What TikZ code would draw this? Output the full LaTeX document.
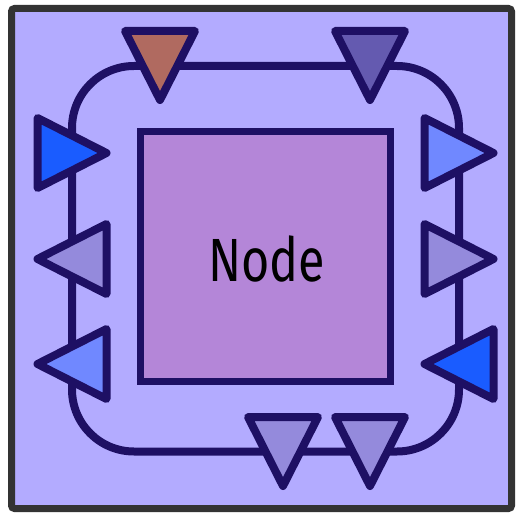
\documentclass[tikz,border=0pt]{standalone}
\usepackage{fontspec}
\setmainfont{Fira Sans}
\definecolor{panel}{RGB}{179,171,255}
\definecolor{frameline}{RGB}{51,51,51}
\definecolor{ink}{RGB}{30,16,100}
\definecolor{corefill}{RGB}{180,134,216}
\definecolor{rust}{RGB}{176,106,96}
\definecolor{slate}{RGB}{100,90,176}
\definecolor{vivid}{RGB}{26,92,255}
\definecolor{soft}{RGB}{112,136,255}
\definecolor{lilac}{RGB}{148,138,220}
\tikzset{
  outerframe/.style={draw=frameline, fill=panel, line width=7pt, rounded corners=3pt},
  loopline/.style={draw=ink, line width=8pt, rounded corners=62pt},
  corebox/.style={draw=ink, fill=corefill, line width=7pt, inner sep=0pt,
    minimum width=250pt, minimum height=249.5pt},
  porttri/.style={draw=ink, line width=8pt, line join=round},
}
% triangle port: centre (x,y), rotation, fill colour; rotate=0 points down
\newcommand\porttriangle[4]{%
  \filldraw[porttri, fill=#4, shift={(#1,#2)}, rotate=#3]
    (-35,-34.5) -- (35,-34.5) -- (0,34.5) -- cycle;}
\begin{document}
\begin{tikzpicture}[x=1pt, y=-1pt]
  \useasboundingbox (0,0) rectangle (527,518);
  \path[outerframe] (11.5,8.5) rectangle (511.5,508.5);
  \path[loopline] (72,66) rectangle (459,451.5);
  \node[corebox] (core) at (265,256.25) {};
  \node[inner sep=0pt] (title) at (266.5,259)
    {\scalebox{0.795}[1]{\fontsize{61}{61}\selectfont Node}};
  % ports along the top
  \porttriangle{160}{65.5}{0}{rust}
  \porttriangle{370}{65.5}{0}{slate}
  % ports along the left
  \porttriangle{72}{153}{90}{vivid}
  \porttriangle{72}{259}{-90}{lilac}
  \porttriangle{72}{364}{-90}{soft}
  % ports along the right
  \porttriangle{459}{153}{90}{soft}
  \porttriangle{459}{259}{90}{lilac}
  \porttriangle{459}{364}{-90}{vivid}
  % ports along the bottom
  \porttriangle{283}{451.5}{0}{lilac}
  \porttriangle{370}{451.5}{0}{lilac}
\end{tikzpicture}
\end{document}
